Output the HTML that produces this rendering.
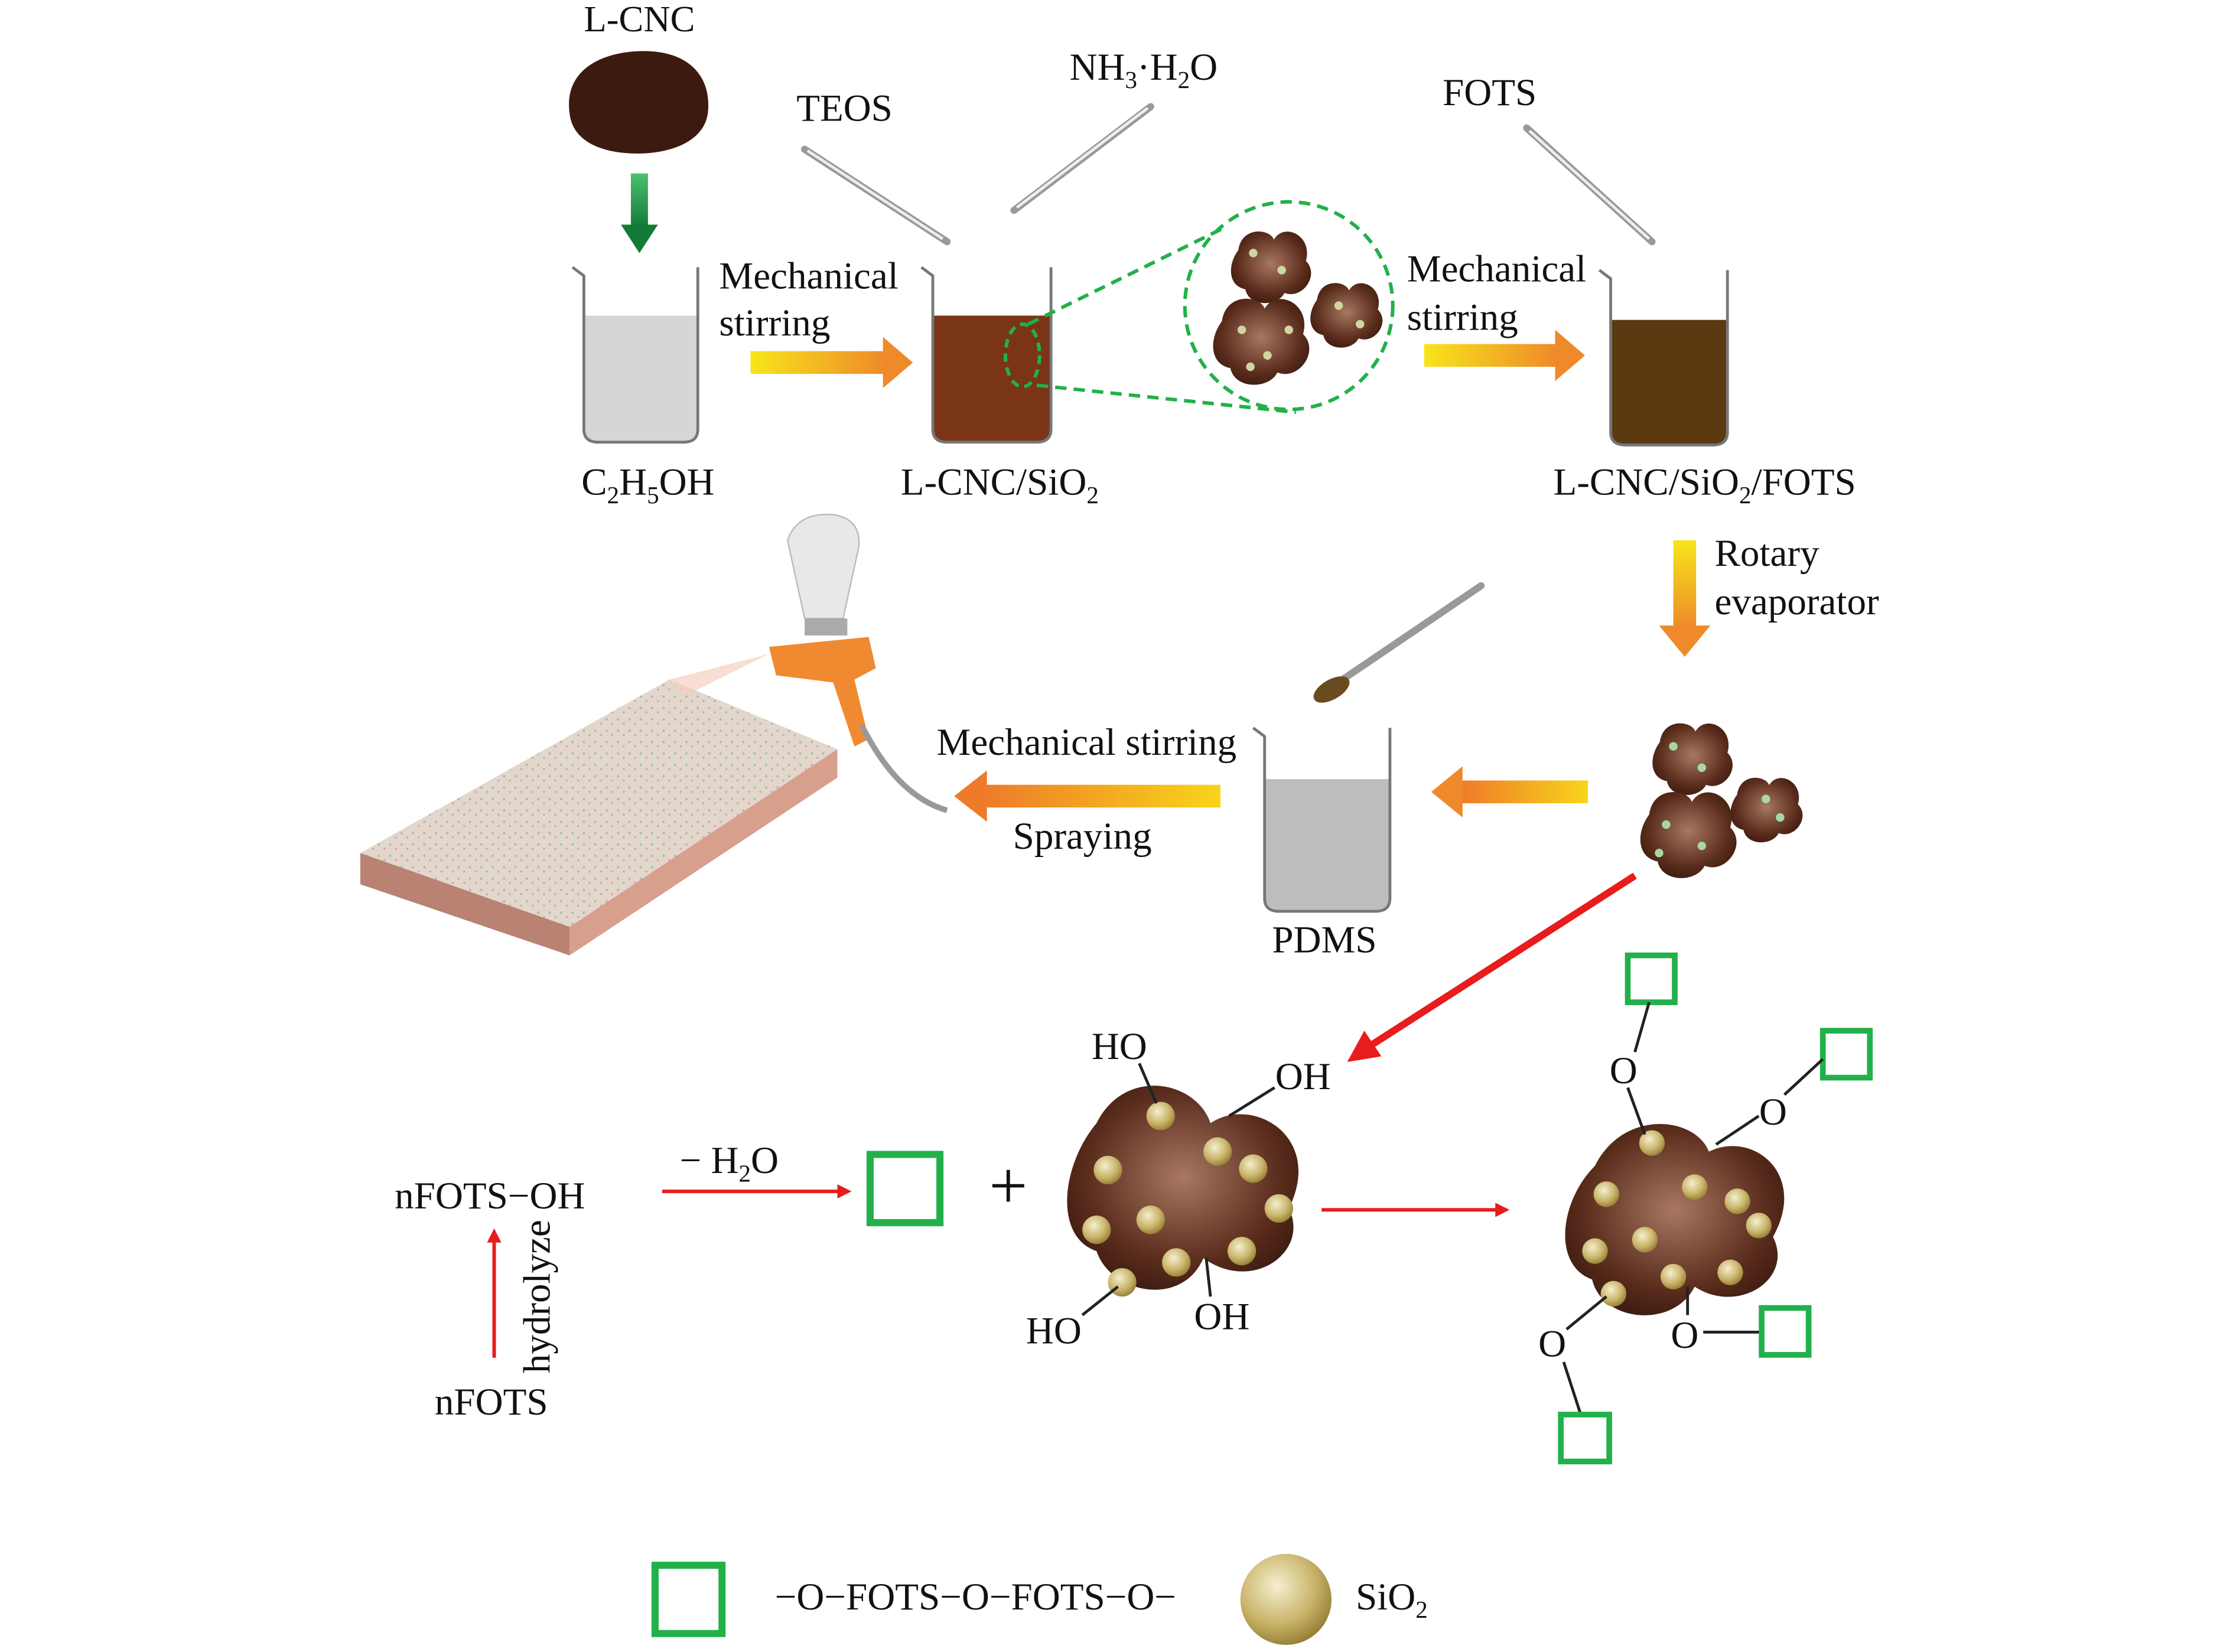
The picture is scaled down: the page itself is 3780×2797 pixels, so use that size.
<!DOCTYPE html>
<html><head><meta charset="utf-8"><style>
html,body{margin:0;padding:0;background:#fff;}
svg{display:block;}
text{font-family:"Liberation Serif",serif;fill:#111;}
</style></head><body>
<svg width="3780" height="2797" viewBox="0 0 1568 1162" preserveAspectRatio="none" xmlns="http://www.w3.org/2000/svg">
<defs>
<linearGradient id="ya" x1="0" x2="1" y1="0" y2="0"><stop offset="0" stop-color="#f7e51a"/><stop offset="1" stop-color="#ee8a2a"/></linearGradient>
<linearGradient id="yl" x1="1" x2="0" y1="0" y2="0"><stop offset="0" stop-color="#f7d51a"/><stop offset="1" stop-color="#ee7a2a"/></linearGradient>
<linearGradient id="yd" x1="0" x2="0" y1="0" y2="1"><stop offset="0" stop-color="#f7e51a"/><stop offset="1" stop-color="#ee8a2a"/></linearGradient>
<linearGradient id="gd" x1="0" x2="0" y1="0" y2="1"><stop offset="0" stop-color="#4cc070"/><stop offset="1" stop-color="#137a38"/></linearGradient>
<radialGradient id="sp" cx="0.4" cy="0.35" r="0.7"><stop offset="0" stop-color="#f4efcf"/><stop offset="0.6" stop-color="#c9b46a"/><stop offset="1" stop-color="#8f7a30"/></radialGradient>
<radialGradient id="bb" cx="0.5" cy="0.45" r="0.6"><stop offset="0" stop-color="#a87862"/><stop offset="0.7" stop-color="#5a2c1c"/><stop offset="1" stop-color="#3a1a10"/></radialGradient>
<pattern id="nz" width="8" height="8" patternUnits="userSpaceOnUse"><rect width="8" height="8" fill="#e3d6cc"/><circle cx="2" cy="2" r="0.8" fill="#9cc39c"/><circle cx="6" cy="5" r="0.7" fill="#c9a89a"/></pattern>
<g id="part">
<path d="M-45,-20 C-40,-55 0,-50 5,-35 C20,-60 60,-40 50,-5 C70,15 45,50 20,40 C10,60 -30,60 -35,35 C-60,30 -60,0 -45,-20Z" fill="url(#bb)"/>
</g>
</defs>

<text x="449" y="22" font-size="26" text-anchor="middle">L-CNC</text>
<path d="M400,80 C395,45 430,35 455,36 C485,37 500,55 497,80 C494,100 470,108 448,108 C420,108 402,98 400,80Z" fill="#3d1a10"/>
<rect x="443" y="122" width="12" height="38" fill="url(#gd)"/>
<polygon points="436,158 462,158 449,178" fill="#137a38"/>

<path d="M410,222 L490,222 L490,302 Q490,311 480,311 L420,311 Q410,311 410,302Z" fill="#d6d6d6"/>
<path d="M402,188 L410,194 L410,302 Q410,311 420,311 L480,311 Q490,311 490,302 L490,188" fill="none" stroke="#777" stroke-width="2"/>
<text x="455" y="348" font-size="27" text-anchor="middle">C<tspan font-size="17" dy="6">2</tspan><tspan dy="-6">H</tspan><tspan font-size="17" dy="6">5</tspan><tspan dy="-6">OH</tspan></text>

<text x="505" y="203" font-size="27">Mechanical</text>
<text x="505" y="236" font-size="27">stirring</text>
<rect x="527" y="247" width="95" height="16" fill="url(#ya)"/>
<polygon points="620,237 641,255 620,273" fill="#ee8a2a"/>

<text x="593" y="85" font-size="27" text-anchor="middle">TEOS</text>
<line x1="565" y1="105" x2="665" y2="170" stroke="#999" stroke-width="5" stroke-linecap="round"/>
<line x1="567" y1="106" x2="662" y2="168" stroke="#eee" stroke-width="2"/>
<text x="803" y="56" font-size="27" text-anchor="middle">NH<tspan font-size="17" dy="6">3</tspan><tspan dy="-6">·H</tspan><tspan font-size="17" dy="6">2</tspan><tspan dy="-6">O</tspan></text>
<line x1="808" y1="75" x2="712" y2="148" stroke="#999" stroke-width="5" stroke-linecap="round"/>
<line x1="806" y1="76" x2="714" y2="146" stroke="#eee" stroke-width="2"/>

<path d="M655,222 L738,222 L738,302 Q738,311 728,311 L665,311 Q655,311 655,302Z" fill="#7a3518"/>
<path d="M647,188 L655,194 L655,302 Q655,311 665,311 L728,311 Q738,311 738,302 L738,188" fill="none" stroke="#777" stroke-width="2"/>
<text x="702" y="348" font-size="27" text-anchor="middle">L-CNC/SiO<tspan font-size="17" dy="6">2</tspan></text>

<ellipse cx="718" cy="250" rx="12" ry="22" fill="none" stroke="#22b04a" stroke-width="2.5" stroke-dasharray="6,4"/>
<line x1="722" y1="228" x2="860" y2="160" stroke="#22b04a" stroke-width="2.5" stroke-dasharray="8,5"/>
<line x1="728" y1="271" x2="910" y2="290" stroke="#22b04a" stroke-width="2.5" stroke-dasharray="8,5"/>
<circle cx="905" cy="215" r="73" fill="none" stroke="#22b04a" stroke-width="2.5" stroke-dasharray="8,5"/>
<use href="#part" transform="translate(892,186) scale(0.5)"/>
<use href="#part" transform="translate(885,238) scale(0.6)"/>
<use href="#part" transform="translate(945,220) scale(0.45)"/>
<g fill="#cfd7a0"><circle cx="880" cy="178" r="3"/><circle cx="900" cy="190" r="3"/><circle cx="872" cy="232" r="3"/><circle cx="890" cy="250" r="3"/><circle cx="905" cy="232" r="3"/><circle cx="940" cy="215" r="3"/><circle cx="955" cy="228" r="3"/><circle cx="878" cy="258" r="3"/></g>

<text x="988" y="198" font-size="27">Mechanical</text>
<text x="988" y="232" font-size="27">stirring</text>
<rect x="1000" y="242" width="93" height="16" fill="url(#ya)"/>
<polygon points="1092,232 1113,250 1092,268" fill="#ee8a2a"/>

<text x="1046" y="74" font-size="27" text-anchor="middle">FOTS</text>
<line x1="1072" y1="90" x2="1160" y2="170" stroke="#999" stroke-width="5" stroke-linecap="round"/>
<line x1="1074" y1="92" x2="1158" y2="168" stroke="#eee" stroke-width="2"/>

<path d="M1131,225 L1213,225 L1213,304 Q1213,313 1203,313 L1141,313 Q1131,313 1131,304Z" fill="#5b3a12"/>
<path d="M1123,190 L1131,196 L1131,304 Q1131,313 1141,313 L1203,313 Q1213,313 1213,304 L1213,190" fill="none" stroke="#777" stroke-width="2"/>
<text x="1197" y="348" font-size="27" text-anchor="middle">L-CNC/SiO<tspan font-size="17" dy="6">2</tspan><tspan dy="-6">/FOTS</tspan></text>

<rect x="1175" y="380" width="16" height="62" fill="url(#yd)"/>
<polygon points="1165,440 1201,440 1183,462" fill="#ee8a2a"/>
<text x="1204" y="398" font-size="27">Rotary</text>
<text x="1204" y="432" font-size="27">evaporator</text>

<use href="#part" transform="translate(1188,532) scale(0.5)"/>
<use href="#part" transform="translate(1185,585) scale(0.6)"/>
<use href="#part" transform="translate(1240,568) scale(0.45)"/>
<g fill="#a8d8a0"><circle cx="1175" cy="525" r="3"/><circle cx="1195" cy="540" r="3"/><circle cx="1170" cy="580" r="3"/><circle cx="1195" cy="595" r="3"/><circle cx="1240" cy="562" r="3"/><circle cx="1250" cy="575" r="3"/><circle cx="1165" cy="600" r="3"/></g>

<rect x="1025" y="549" width="90" height="16" fill="url(#yl)"/>
<polygon points="1027,539 1005,557 1027,575" fill="#ee8a2a"/>

<line x1="925" y1="490" x2="1040" y2="412" stroke="#999" stroke-width="5" stroke-linecap="round"/>
<ellipse cx="935" cy="485" rx="14" ry="7" fill="#6a4a20" transform="rotate(-30 935 485)"/>
<path d="M888,548 L976,548 L976,632 Q976,641 966,641 L898,641 Q888,641 888,632Z" fill="#bdbdbd"/>
<path d="M880,512 L888,518 L888,632 Q888,641 898,641 L966,641 Q976,641 976,632 L976,512" fill="none" stroke="#777" stroke-width="2"/>
<text x="930" y="670" font-size="27" text-anchor="middle">PDMS</text>

<text x="763" y="531" font-size="27" text-anchor="middle">Mechanical stirring</text>
<rect x="690" y="552" width="167" height="16" fill="url(#yl)"/>
<polygon points="693,542 670,560 693,578" fill="#ee7a2a"/>
<text x="760" y="597" font-size="27" text-anchor="middle">Spraying</text>

<polygon points="253,600 470,478 588,527 400,652" fill="url(#nz)"/>
<polygon points="253,600 400,652 400,672 253,622" fill="#b98272"/>
<polygon points="400,652 588,527 588,547 400,672" fill="#d7a08c"/>
<path d="M553,380 Q560,360 585,362 Q605,365 603,385 L592,435 L565,435Z" fill="#e8e8e8" stroke="#bbb"/>
<rect x="565" y="435" width="30" height="12" fill="#aaa"/>
<path d="M540,455 L610,448 L615,470 L600,478 L610,520 L600,525 L585,480 L545,475Z" fill="#f08a30"/>
<path d="M605,510 Q630,560 665,570" fill="none" stroke="#999" stroke-width="4"/>
<polygon points="540,460 470,478 480,490" fill="#f3cfc2" opacity="0.7"/>

<line x1="1148" y1="616" x2="960" y2="737" stroke="#e81c1c" stroke-width="5"/>
<polygon points="946,747 958,725 970,743" fill="#e81c1c"/>

<text x="344" y="850" font-size="27" text-anchor="middle">nFOTS−OH</text>
<line x1="347" y1="955" x2="347" y2="872" stroke="#e81c1c" stroke-width="2.5"/>
<polygon points="342,874 352,874 347,864" fill="#e81c1c"/>
<text transform="translate(386,912) rotate(-90)" font-size="27" text-anchor="middle">hydrolyze</text>
<text x="345" y="995" font-size="27" text-anchor="middle">nFOTS</text>
<text x="512" y="825" font-size="27" text-anchor="middle">− H<tspan font-size="17" dy="6">2</tspan><tspan dy="-6">O</tspan></text>
<line x1="465" y1="838" x2="590" y2="838" stroke="#e81c1c" stroke-width="2.5"/>
<polygon points="588,833 598,838 588,843" fill="#e81c1c"/>
<rect x="611" y="812" width="49" height="48" fill="none" stroke="#22b04a" stroke-width="5"/>
<text x="708" y="850" font-size="48" text-anchor="middle">+</text>

<path d="M770,790 C790,750 840,760 850,790 C880,770 930,800 905,850 C920,880 880,910 845,885 C830,920 780,910 770,880 C740,870 745,820 770,790Z" fill="url(#bb)"/>
<g fill="url(#sp)">
<circle cx="815" cy="785" r="10"/><circle cx="855" cy="810" r="10"/><circle cx="778" cy="823" r="10"/><circle cx="880" cy="822" r="10"/><circle cx="898" cy="850" r="10"/><circle cx="808" cy="858" r="10"/><circle cx="770" cy="865" r="10"/><circle cx="826" cy="888" r="10"/><circle cx="872" cy="880" r="10"/><circle cx="788" cy="902" r="10"/>
</g>
<line x1="812" y1="776" x2="800" y2="748" stroke="#222" stroke-width="2"/>
<line x1="863" y1="785" x2="895" y2="765" stroke="#222" stroke-width="2"/>
<line x1="785" y1="905" x2="760" y2="925" stroke="#222" stroke-width="2"/>
<line x1="847" y1="885" x2="850" y2="912" stroke="#222" stroke-width="2"/>
<text x="786" y="745" font-size="27" text-anchor="middle">HO</text>
<text x="915" y="766" font-size="27" text-anchor="middle">OH</text>
<text x="740" y="945" font-size="27" text-anchor="middle">HO</text>
<text x="858" y="935" font-size="27" text-anchor="middle">OH</text>

<line x1="928" y1="851" x2="1052" y2="851" stroke="#e81c1c" stroke-width="2.5"/>
<polygon points="1050,846 1060,851 1050,856" fill="#e81c1c"/>

<path d="M1120,820 C1140,780 1190,785 1200,810 C1230,795 1270,825 1245,870 C1260,900 1220,925 1190,905 C1175,935 1125,930 1118,900 C1090,890 1095,845 1120,820Z" fill="url(#bb)"/>
<g fill="url(#sp)">
<circle cx="1160" cy="804" r="9"/><circle cx="1190" cy="835" r="9"/><circle cx="1128" cy="840" r="9"/><circle cx="1220" cy="845" r="9"/><circle cx="1235" cy="862" r="9"/><circle cx="1155" cy="872" r="9"/><circle cx="1120" cy="880" r="9"/><circle cx="1175" cy="898" r="9"/><circle cx="1215" cy="895" r="9"/><circle cx="1133" cy="910" r="9"/>
</g>
<rect x="1143" y="672" width="33" height="33" fill="none" stroke="#22b04a" stroke-width="4"/>
<line x1="1158" y1="705" x2="1148" y2="740" stroke="#222" stroke-width="2"/>
<text x="1140" y="762" font-size="27" text-anchor="middle">O</text>
<line x1="1143" y1="765" x2="1155" y2="798" stroke="#222" stroke-width="2"/>
<rect x="1280" y="725" width="33" height="33" fill="none" stroke="#22b04a" stroke-width="4"/>
<line x1="1280" y1="745" x2="1253" y2="770" stroke="#222" stroke-width="2"/>
<text x="1245" y="791" font-size="27" text-anchor="middle">O</text>
<line x1="1235" y1="785" x2="1205" y2="805" stroke="#222" stroke-width="2"/>
<line x1="1128" y1="912" x2="1100" y2="935" stroke="#222" stroke-width="2"/>
<text x="1090" y="954" font-size="27" text-anchor="middle">O</text>
<line x1="1098" y1="958" x2="1110" y2="995" stroke="#222" stroke-width="2"/>
<rect x="1096" y="995" width="34" height="33" fill="none" stroke="#22b04a" stroke-width="4"/>
<line x1="1185" y1="905" x2="1185" y2="925" stroke="#222" stroke-width="2"/>
<text x="1183" y="948" font-size="27" text-anchor="middle">O</text>
<line x1="1196" y1="937" x2="1237" y2="937" stroke="#222" stroke-width="2"/>
<rect x="1237" y="920" width="33" height="33" fill="none" stroke="#22b04a" stroke-width="4"/>

<rect x="460" y="1101" width="47" height="48" fill="none" stroke="#22b04a" stroke-width="5"/>
<text x="685" y="1132" font-size="27" text-anchor="middle">−O−FOTS−O−FOTS−O−</text>
<circle cx="903" cy="1125" r="32" fill="url(#sp)"/>
<text x="952" y="1132" font-size="27">SiO<tspan font-size="17" dy="6">2</tspan></text>
</svg>
</body></html>
